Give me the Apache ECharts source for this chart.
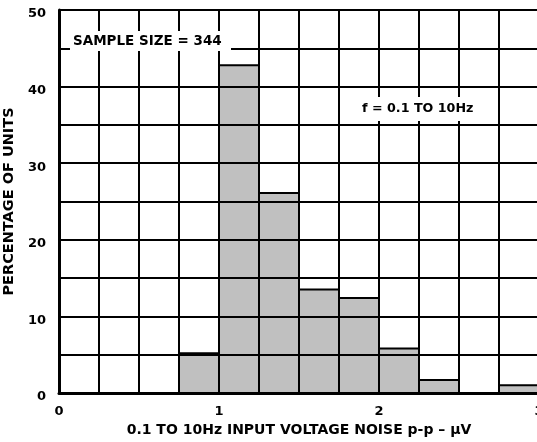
<!DOCTYPE html>
<html>
<head>
<meta charset="utf-8">
<script src="https://cdn.jsdelivr.net/npm/echarts@6/dist/echarts.min.js"></script>
<style>
  html, body { margin: 0; padding: 0; background: #fff; }
  #chart { width: 537px; height: 442px; }
</style>
</head>
<body>
<div id="chart"></div>
<script>
// histogram bins (p-p noise, uV) and percentage of units
const binStart = [0.75, 1.0, 1.25, 1.5, 1.75, 2.0, 2.25, 2.5, 2.75];
const binEnd = [1.0, 1.25, 1.5, 1.75, 2.0, 2.25, 2.5, 2.75, 3.0];
const percent = [5.2, 42.8, 26.1, 13.5, 12.4, 5.8, 1.7, 0, 1.0];

const xTitle = '0.1 TO 10Hz INPUT VOLTAGE NOISE p-p – \u03BCV';
const yTitle = 'PERCENTAGE OF UNITS';
const note1 = 'SAMPLE SIZE = 344';
const note2 = 'f = 0.1 TO 10Hz';

const font = 'DejaVu Sans, Verdana, sans-serif';

const chart = echarts.init(document.getElementById('chart'));

const data = binStart.map((s, i) => [s, binEnd[i], percent[i]]);

// grid lines, drawn above the bars like in the datasheet
const gridLine = { show: true, lineStyle: { color: '#000', width: 2 } };

let option = {
  animation: false,
  grid: { left: 59, top: 10, width: 480, height: 383, outerBoundsMode: 'none' },
  xAxis: {
    type: 'value',
    min: 0,
    max: 3,
    interval: 0.25,
    z: 10,
    name: xTitle,
    nameLocation: 'middle',
    nameGap: 25,
    nameTextStyle: { color: '#000', fontFamily: font, fontWeight: 'bold', fontSize: 14 },
    axisLine: { show: true, lineStyle: { color: '#000', width: 3 } },
    axisTick: { show: false },
    splitLine: gridLine,
    axisLabel: {
      color: '#000',
      fontFamily: font,
      fontWeight: 'bold',
      fontSize: 13,
      margin: 12,
      showMaxLabel: true,
      formatter: v => (Math.abs(v - Math.round(v)) < 1e-6 ? String(Math.round(v)) : ''),
    },
  },
  yAxis: {
    type: 'value',
    min: 0,
    max: 50,
    interval: 5,
    z: 10,
    name: yTitle,
    nameLocation: 'middle',
    nameGap: 36,
    nameTextStyle: { color: '#000', fontFamily: font, fontWeight: 'bold', fontSize: 14.5 },
    axisLine: { show: true, lineStyle: { color: '#000', width: 3 } },
    axisTick: { show: false },
    splitLine: gridLine,
    axisLabel: {
      color: '#000',
      fontFamily: font,
      fontWeight: 'bold',
      fontSize: 13,
      margin: 13,
      verticalAlign: 'top',
      lineHeight: 8,
      formatter: v => (v % 10 === 0 ? String(v) : ''),
    },
  },
  series: [
    {
      type: 'custom',
      data: data,
      encode: { x: [0, 1], y: 2 },
      renderItem: function (params, api) {
        const p0 = api.coord([api.value(0), 0]);
        const p1 = api.coord([api.value(1), api.value(2)]);
        return {
          type: 'rect',
          shape: { x: p0[0], y: p1[1], width: p1[0] - p0[0], height: p0[1] - p1[1] },
          style: { fill: '#c0c0c0', stroke: '#000', lineWidth: 2 },
        };
      },
    },
  ],
  graphic: [
    {
      type: 'rect',
      z: 100,
      shape: { x: 70, y: 31, width: 161, height: 20 },
      style: { fill: '#fff' },
    },
    {
      type: 'text',
      z: 101,
      x: 73,
      y: 41,
      style: { text: note1, fill: '#000', font: 'bold 13.5px ' + font, verticalAlign: 'middle' },
    },
    {
      type: 'rect',
      z: 100,
      shape: { x: 358, y: 97, width: 120, height: 24 },
      style: { fill: '#fff' },
    },
    {
      type: 'text',
      z: 101,
      x: 362,
      y: 109,
      style: { text: note2, fill: '#000', font: 'bold 12.7px ' + font, verticalAlign: 'middle' },
    },
  ],
};

chart.setOption(option);
</script>
</body>
</html>
